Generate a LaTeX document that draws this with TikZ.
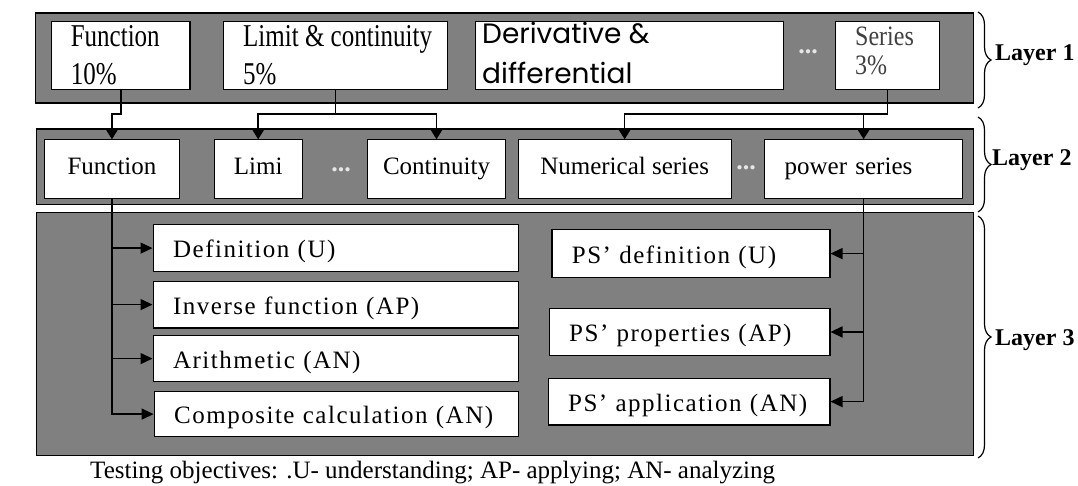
\documentclass[tikz,border=0pt]{standalone}
\usepackage{fontspec}
\setmainfont{Liberation Serif}
\newfontfamily\gothic{Poppins}
\usepackage{graphicx}
\usetikzlibrary{arrows.meta,decorations.pathreplacing}
\definecolor{layergray}{HTML}{808080}
\definecolor{dotgray}{HTML}{E6E6E6}
\newcommand\ystretch[2]{\scalebox{1}[#1]{#2}}
\begin{document}
\begin{tikzpicture}[x=1pt,y=-1pt,
  frameline/.style={draw=black, line width=0.6pt, double, double distance=1.1pt},
  graybox/.style={draw=black, fill=layergray, line width=1.3pt, inner sep=0pt, anchor=north west},
  wbox/.style={draw=black, fill=white, line width=1.2pt, inner sep=0pt, anchor=north west},
  b2/.style={wbox, font=\fontsize{25}{30}\selectfont, text height=16pt, text depth=6pt, minimum height=59pt},
  b3/.style={wbox, font=\fontsize{25}{30}\selectfont\addfontfeature{LetterSpace=6}, align=left, inner xsep=20pt, inner ysep=0pt, text height=20pt, text depth=1pt},
  t1/.style={inner sep=0pt, anchor=base west, font=\fontsize{25}{30}\selectfont},
  dots/.style={inner sep=0pt, text=dotgray, font=\fontsize{26}{30}\selectfont\bfseries},
  lab/.style={inner sep=0pt, anchor=west, font=\fontsize{24}{28}\selectfont\bfseries},
  brc/.style={draw=black, line width=1.2pt, decorate, decoration={brace, amplitude=13pt}},
  arr/.style={draw=black, line width=1.5pt, -{Triangle[length=10pt,width=12pt]}},
  arrh/.style={draw=black, line width=1.4pt, -{Triangle[length=12pt,width=11pt]}},
  ln/.style={draw=black, line width=1.5pt}
]
\useasboundingbox (0,0) rectangle (1078,486);
% outer frame
\draw[frameline] (1078,10) -- (9,10) -- (9,487);
% layer panels
\node[graybox, minimum width=938.5pt, minimum height=90pt] (L1) at (34.5,12.5) {};
\node[graybox, minimum width=937.5pt, minimum height=75.5pt] (L2) at (35.5,128.5) {};
\node[graybox, minimum width=937.5pt, minimum height=243pt] (L3) at (35.5,212) {};
% layer 1 boxes
\node[wbox, minimum width=138.4pt, minimum height=68.6pt] (f1) at (51,20.7) {};
\node[wbox, minimum width=223.6pt, minimum height=68.6pt] (l1) at (223,20.7) {};
\node[wbox, minimum width=308.5pt, minimum height=68.6pt] (d1) at (474.5,20.7) {};
\node[wbox, minimum width=104pt, minimum height=68.6pt] (s1) at (835,20.7) {};
\node[t1] (f1t) at (70.6,46.7) {\ystretch{1.27}{\begin{tabular}[t]{@{}l@{}}Function\\10\%\end{tabular}}};
\node[t1] (l1t) at (243,46.7) {\ystretch{1.27}{\begin{tabular}[t]{@{}l@{}}Limit \& continuity\\5\%\end{tabular}}};
\node[t1, font=\gothic\fontsize{28}{40}\selectfont] (d1t) at (482,43.3) {\begin{tabular}[t]{@{}l@{}}Derivative \&\\differential\end{tabular}};
\node[t1, font=\fontsize{24}{24}\selectfont, text=black!75] (s1t) at (855,46) {\ystretch{1.17}{\begin{tabular}[t]{@{}l@{}}Series\\3\%\end{tabular}}};
\node[dots] (dt1) at (808,52) {...};
% layer 2 boxes
\node[b2, minimum width=135.3pt] (f2) at (43.7,139.3) {Function};
\node[b2, minimum width=88.2pt] (li2) at (213.5,139.3) {Limi};
\node[b2, minimum width=137.8pt] (c2) at (367,139.3) {Continuity};
\node[b2, minimum width=212.9pt] (n2) at (517.6,139.3) {Numerical series};
\node[b2, minimum width=198pt, align=left, text width=158pt, inner xsep=20pt] (p2) at (764,139.3) {power series};
\node[dots] (dt2) at (341,170) {...};
\node[dots] (dt3) at (746,167.3) {...};
% layer 3 boxes
\node[b3, text width=325.5pt, minimum height=46.4pt] (def) at (152.5,224.3) {Definition (U)};
\node[b3, text width=325.5pt, minimum height=46.6pt] (inv) at (152.5,280.7) {Inverse function (AP)};
\node[b3, text width=325.5pt, minimum height=46pt] (ari) at (152.5,335) {Arithmetic (AN)};
\node[b3, text width=324.4pt, minimum height=45pt] (com) at (153.6,391) {Composite calculation (AN)};
\node[b3, text width=238pt, minimum height=47.4pt] (psd) at (551.3,229.3) {PS’ definition (U)};
\node[b3, text width=240.7pt, minimum height=47.3pt] (psp) at (548.6,307.7) {PS’ properties (AP)};
\node[b3, text width=241.8pt, minimum height=46.6pt] (psa) at (547.5,377.7) {PS’ application (AN)};
% connectors layer 1 -> layer 2
\coordinate (j) at (0,114);
\draw[arr] (f1.south) -- (f1.south |- j) -- (f2.north |- j) -- (f2.north);
\draw[ln] (l1.south) -- (l1.south |- j);
\draw[arr] (l1.south |- j) -| (li2.north);
\draw[arr] (l1.south |- j) -| (c2.north);
\draw[ln] (s1.south) -- (s1.south |- j);
\draw[arr] (s1.south |- j) -| (n2.north);
\draw[arr] (s1.south |- j) -| (p2.north);
% connectors layer 2 -> layer 3
\draw[arrh] (f2.south) |- (com.west);
\draw[arrh] (f2.south |- def.west) -- (def.west);
\draw[arrh] (f2.south |- inv.west) -- (inv.west);
\draw[arrh] (f2.south |- ari.west) -- (ari.west);
\draw[arrh] (p2.south) |- (psa.east);
\draw[arrh] (p2.south |- psd.east) -- (psd.east);
\draw[arrh] (p2.south |- psp.east) -- (psp.east);
% braces and labels
\draw[brc] (978,12) -- (978,108);
\draw[brc] (978,117) -- (978,212);
\draw[brc] (978,216) -- (978,458);
\node[lab] (lab1) at (995,55) {Layer 1};
\node[lab] (lab2) at (992,160) {Layer 2};
\node[lab] (lab3) at (995,340) {Layer 3};
% caption
\node[t1] (cap) at (90,478) {Testing objectives: .U- understanding; AP- applying; AN- analyzing};
\end{tikzpicture}
\end{document}
